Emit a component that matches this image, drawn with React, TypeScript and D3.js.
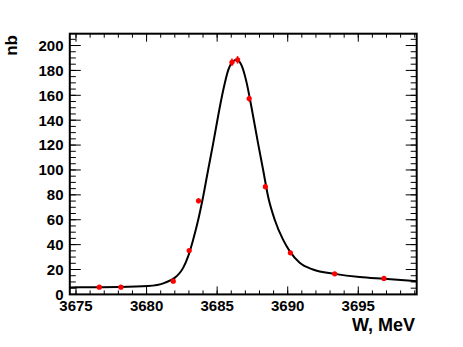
import React from "react";
import * as d3 from "d3";

const W = 463;
const H = 347;

// Data points: energy (MeV), cross section (nb), error (nb)
const pointX = [3676.65, 3678.18, 3681.89, 3683.02, 3683.68, 3686.05, 3686.45, 3687.27, 3688.42, 3690.19, 3693.33, 3696.82];
const pointY = [5.8, 5.8, 10.6, 35.2, 75.2, 186.5, 188.5, 157.4, 86.6, 33.4, 16.5, 12.8];
const pointErr = [0.8, 0.8, 1.2, 1.5, 2, 3, 3, 2.5, 2, 1.5, 1, 1];

// Fit curve
const curveX = [3674.56, 3676, 3678, 3680.1, 3681.28, 3681.99, 3682.36, 3682.6, 3682.95, 3683.3, 3683.66, 3684.01, 3684.36, 3684.72, 3685.08, 3685.43, 3685.78, 3686.13, 3686.37, 3686.73, 3687.08, 3687.43, 3687.9, 3688.26, 3688.61, 3689.08, 3689.67, 3690.15, 3690.85, 3691.79, 3693.33, 3695.1, 3696.82, 3699.14];
const curveY = [5.6, 5.7, 5.9, 6.7, 9.3, 13.3, 17.4, 21.5, 30.7, 44, 60, 78.7, 100, 121.4, 144, 164, 180, 187.4, 188.5, 184, 170.6, 150.6, 121.4, 100, 78.7, 60, 44, 34.6, 25.4, 20, 16.5, 13.9, 12.5, 10.6];

const xTicks = [3675, 3680, 3685, 3690, 3695];
const yTicks = [0, 20, 40, 60, 80, 100, 120, 140, 160, 180, 200];
const xMinorTicks = d3.range(3675, 3700, 1);
const yMinorTicks = d3.range(0, 210, 5);

const xLabel = "W, MeV";
const yLabel = "nb";

const L = 69.8, R = 416.7, T = 33.7, B = 294.4;

export default function App() {
  const x = d3.scaleLinear().domain([3674.56, 3699.14]).range([L, R]);
  const y = d3.scaleLinear().domain([0, 209.5]).range([B, T]);
  const line = d3
    .line<number>()
    .x((_, i) => x(curveX[i]))
    .y((_, i) => y(curveY[i]))
    .curve(d3.curveMonotoneX);
  const font = "'Liberation Sans', Arial, Helvetica, sans-serif";
  return (
    <svg width={W} height={H} style={{ position: "absolute", left: 0, top: 0, background: "#fff" }}>
      <rect x={0} y={0} width={W} height={H} fill="#fff" />
      <defs>
        <clipPath id="plotclip">
          <rect x={L} y={T} width={R - L} height={B - T} />
        </clipPath>
      </defs>
      {/* minor ticks */}
      <g stroke="#000" strokeWidth={1}>
        {xMinorTicks.map((t) => (
          <g key={"xm" + t}>
            <line x1={x(t)} x2={x(t)} y1={B} y2={B - 4} />
            <line x1={x(t)} x2={x(t)} y1={T} y2={T + 4} />
          </g>
        ))}
        {xTicks.map((t) => (
          <g key={"xM" + t}>
            <line x1={x(t)} x2={x(t)} y1={B} y2={B - 8} />
            <line x1={x(t)} x2={x(t)} y1={T} y2={T + 8} />
          </g>
        ))}
        {yMinorTicks.map((t) => (
          <g key={"ym" + t}>
            <line x1={L} x2={L + 6} y1={y(t)} y2={y(t)} />
            <line x1={R} x2={R - 6} y1={y(t)} y2={y(t)} />
          </g>
        ))}
        {yTicks.map((t) => (
          <g key={"yM" + t}>
            <line x1={L} x2={L + 11} y1={y(t)} y2={y(t)} />
            <line x1={R} x2={R - 11} y1={y(t)} y2={y(t)} />
          </g>
        ))}
      </g>
      {/* curve */}
      <path d={line(curveX) || ""} fill="none" stroke="#000" strokeWidth={2} clipPath="url(#plotclip)" />
      {/* points */}
      <g fill="#f00" stroke="#f00">
        {pointX.map((px, i) => (
          <g key={"p" + i}>
            <line x1={x(px)} x2={x(px)} y1={y(pointY[i] - pointErr[i])} y2={y(pointY[i] + pointErr[i])} strokeWidth={1.5} />
            <circle cx={x(px)} cy={y(pointY[i])} r={2.6} stroke="none" />
          </g>
        ))}
      </g>
      {/* frame */}
      <rect x={L} y={T} width={R - L} height={B - T} fill="none" stroke="#000" strokeWidth={2} />
      {/* tick labels */}
      <g fontFamily={font} fontWeight="bold" fontSize={15} fill="#000">
        {yTicks.map((t) => (
          <text key={"yl" + t} x={63.5} y={y(t)} dy="0.36em" textAnchor="end">
            {t}
          </text>
        ))}
        {xTicks.map((t) => (
          <text key={"xl" + t} x={x(t)} y={310.5} textAnchor="middle">
            {t}
          </text>
        ))}
      </g>
      <text x={415} y={331} textAnchor="end" fontFamily={font} fontWeight="bold" fontSize={18}>
        {xLabel}
      </text>
      <text transform="translate(17,35) rotate(-90)" textAnchor="end" fontFamily={font} fontWeight="bold" fontSize={17}>
        {yLabel}
      </text>
    </svg>
  );
}
